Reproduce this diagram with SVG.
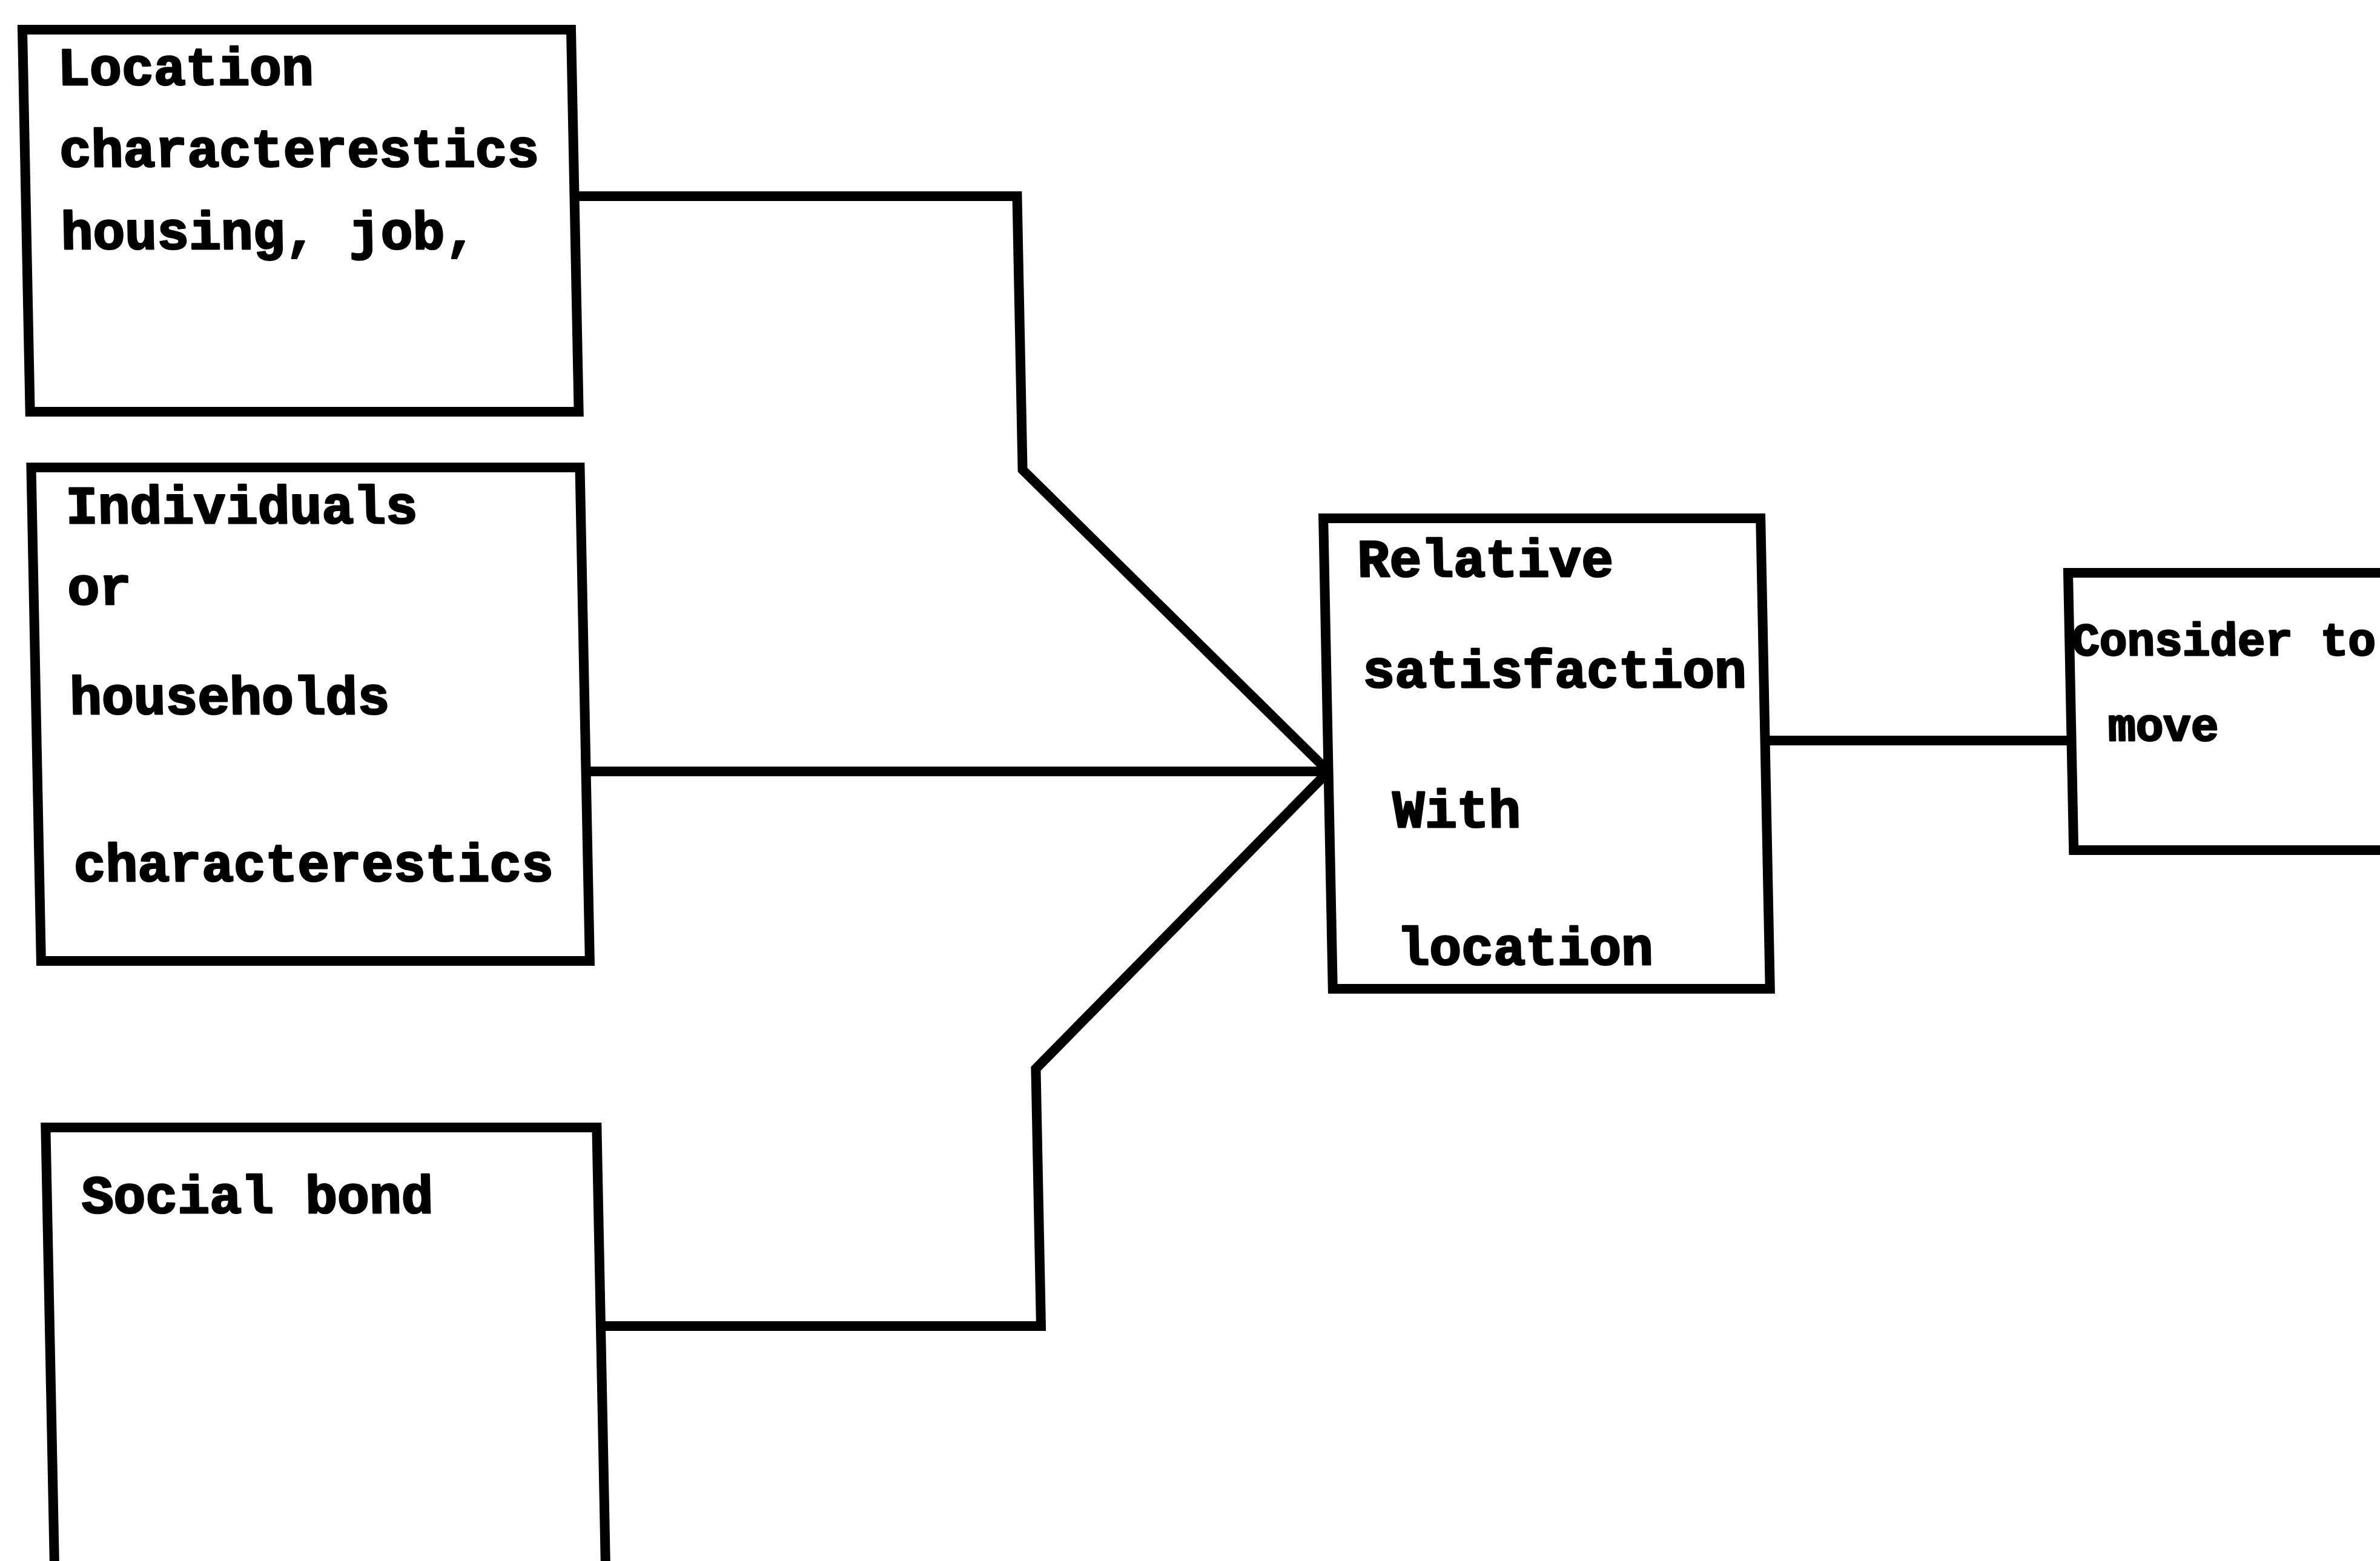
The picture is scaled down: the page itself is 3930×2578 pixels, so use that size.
<svg xmlns="http://www.w3.org/2000/svg" width="3930" height="2578" viewBox="0 0 3930 2578">
  <style>
    .box { fill: none; stroke: #000; stroke-width: 16; stroke-linejoin: miter; }
    .link { fill: none; stroke: #000; stroke-width: 16; stroke-linejoin: miter; stroke-linecap: butt; }
    .lbl { font-family: "Liberation Mono", "Courier New", monospace; font-weight: bold; font-size: 88px; fill: #000; stroke: #000; stroke-width: 3; stroke-linejoin: round; }
    .lbl-s { font-size: 76px; }
  </style>
  <rect x="0" y="0" width="3930" height="2578" fill="#fff"/>
  <!-- the whole sheet leans slightly to the right -->
  <g transform="skewX(1.15)">
    <g id="connectors">
      <path class="link" d="M942 324 H1673 V776 L2168 1274"/>
      <path class="link" d="M942 1274 H2168"/>
      <path class="link" d="M948 2190 H1675 V1765 L2168 1274"/>
      <path class="link" d="M2890 1223 H3396"/>
    </g>
    <g id="location-characteristics">
      <rect class="box" x="36" y="49" width="906" height="631"/>
      <text class="lbl" x="93" y="140">Location</text>
      <text class="lbl" x="93" y="275">characterestics</text>
      <text class="lbl" x="93" y="411">housing, job,</text>
    </g>
    <g id="household-characteristics">
      <rect class="box" x="36" y="772" width="906" height="815"/>
      <text class="lbl" x="92" y="864">Individuals</text>
      <text class="lbl" x="92" y="998">or</text>
      <text class="lbl" x="92" y="1179">households</text>
      <text class="lbl" x="93" y="1455">characterestics</text>
    </g>
    <g id="social-bond">
      <rect class="box" x="38" y="1862" width="910" height="800"/>
      <text class="lbl" x="95" y="2003">Social bond</text>
    </g>
    <g id="relative-satisfaction">
      <rect class="box" x="2168" y="856" width="722" height="777"/>
      <text class="lbl" x="2223" y="952">Relative</text>
      <text class="lbl" x="2228" y="1135">satisfaction</text>
      <text class="lbl" x="2273" y="1366">With</text>
      <text class="lbl" x="2276" y="1593">location</text>
    </g>
    <g id="consider-to-move">
      <rect class="box" x="3396" y="946" width="700" height="458"/>
      <text class="lbl lbl-s" x="3400" y="1082">Consider to</text>
      <text class="lbl lbl-s" x="3457" y="1223">move</text>
    </g>
  </g>
</svg>
